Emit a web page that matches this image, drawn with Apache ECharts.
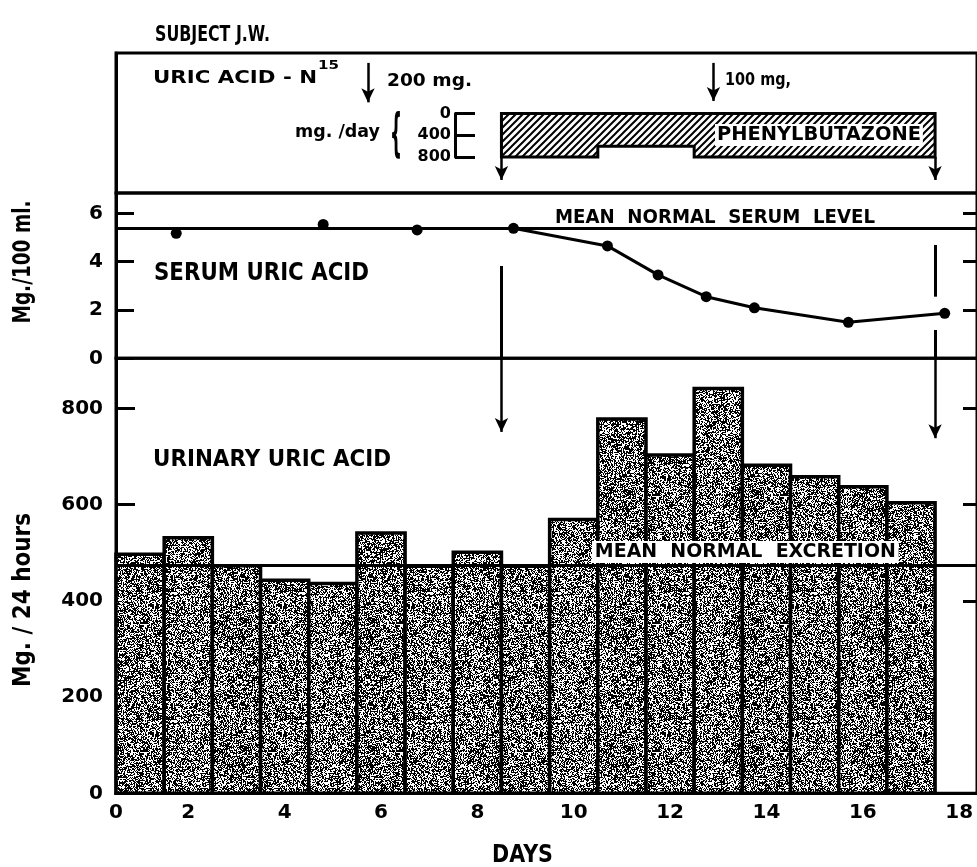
<!DOCTYPE html>
<html><head><meta charset="utf-8">
<script src="https://cdn.jsdelivr.net/npm/echarts@6/dist/echarts.min.js"></script>
<style>html,body{margin:0;padding:0;background:#fff}#c{width:977px;height:867px}</style>
</head><body><div id="c"></div>
<script>
// ---- data ----
const days = [1,2,3,4,5,6,7,8,9,10,11,12,13,14,15,16,17];
const urinary = [497,531,473,443,436,541,472,501,472,569,778,703,841,682,658,637,604];
const serumDays = [1.75,4.8,6.75,8.75,10.7,11.75,12.75,13.75,15.7,17.7];
const serumValues = [5.17,5.54,5.31,5.38,4.65,3.45,2.55,2.09,1.49,1.86];
const serumLineStart = 3;
const meanSerum = 5.38;
const meanExcretion = 474;
const drugStart = [8.5,10.5,12.5];
const drugEnd = [10.5,12.5,17.5];
const drugDose = [800,600,800];
const doseTicks = [0,400,800];
const injectionDays = [5.73,12.9];
const injectionLabels = ['200 mg.','100 mg,'];
const xTickValues = [0.5,2,4,6,8,10,12,14,16,18];
const xTickLabels = ['0','2','4','6','8','10','12','14','16','18'];
const serumTicks = [0,2,4,6];
const urineTicks = [0,200,400,600,800];
const urineRightTicks = [400,600,800];
const serumRightTicks = [2,4,6];

// ---- patterns ----
function noisePattern(){
  const n=128, c=document.createElement('canvas'); c.width=c.height=n;
  const g=c.getContext('2d'); const img=g.createImageData(n,n);
  let s=987654321;
  const r=()=>{ s=(Math.imul(s,1103515245)+12345)>>>0; return (s>>>8)/16777216; };
  for(let i=0;i<n*n;i++){ const w=r()<0.45?255:0; img.data[i*4]=img.data[i*4+1]=img.data[i*4+2]=w; img.data[i*4+3]=255; }
  g.putImageData(img,0,0); return c;
}
function hatchPattern(){
  const n=7, c=document.createElement('canvas'); c.width=c.height=n;
  const g=c.getContext('2d'); g.fillStyle='#fff'; g.fillRect(0,0,n,n);
  g.strokeStyle='#000'; g.lineWidth=2;
  g.beginPath(); g.moveTo(-1,n+1); g.lineTo(n+1,-1); g.moveTo(-2,2); g.lineTo(2,-2); g.moveTo(n-2,n+2); g.lineTo(n+2,n-2); g.stroke();
  return c;
}
const noiseFill = {image: noisePattern(), repeat:'repeat'};
const hatchFill = {image: hatchPattern(), repeat:'repeat'};

// ---- text helper ----
const FONT = '"DejaVu Sans", "Liberation Sans", sans-serif';
const mctx = document.createElement('canvas').getContext('2d');
function txt(t, x, y, w, fs, extra, weight){
  weight = weight || 'bold';
  mctx.font = weight + ' ' + fs + 'px ' + FONT;
  const nat = mctx.measureText(t).width;
  const el = {type:'text', x:x, y:y, scaleX:w/nat, z:100,
    style:{text:t, fontSize:fs, fontWeight:weight, fontFamily:FONT, fill:'#000', align:'left', verticalAlign:'middle'}};
  if (extra) { Object.assign(el.style, extra.style||{}); }
  return el;
}

const XMIN = 0.5, XMAX = 18.37;
const black3 = {color:'#000', width:3};
function xAxis(i, show){
  return {gridIndex:i, type:'value', min:XMIN, max:XMAX, show:show,
    axisLine:{show:true, onZero:false, lineStyle:black3}, axisTick:{show:false}, splitLine:{show:false},
    axisLabel:{show:show, customValues:xTickValues, margin:9, fontSize:20, fontWeight:'bold', fontFamily:FONT, color:'#000',
      formatter:v=>{ const k=xTickValues.findIndex(a=>Math.abs(a-v)<1e-6); return k>=0?xTickLabels[k]:''; }}};
}
const lblStyle = {fontSize:20, fontWeight:'bold', fontFamily:FONT, color:'#000', margin:13};

const option = {
  animation:false,
  backgroundColor:'#fff',
  grid:[
    {left:116, top:53, right:0, height:140, show:true, borderColor:'#000', borderWidth:3},
    {left:116, top:193, right:0, height:165.3, show:true, borderColor:'#000', borderWidth:3},
    {left:116, top:358.3, right:0, height:435, show:true, borderColor:'#000', borderWidth:3},
    {left:455, top:113.5, width:20, height:43.5, show:false}
  ],
  xAxis:[ xAxis(0,false), xAxis(1,false), xAxis(2,true), {gridIndex:3, type:'value', show:false, min:0, max:1} ],
  yAxis:[
    {gridIndex:0, type:'value', inverse:true, min:-1112, max:1461, axisLine:{show:true, lineStyle:black3}, axisTick:{show:false}, axisLabel:{show:false}, splitLine:{show:false}},
    {gridIndex:1, type:'value', min:0, max:6.84, axisLine:{show:true, lineStyle:black3},
      axisTick:{show:true, inside:true, length:18, lineStyle:black3, customValues:serumTicks},
      axisLabel:Object.assign({customValues:serumTicks}, lblStyle), splitLine:{show:false}},
    {gridIndex:1, type:'value', position:'right', min:0, max:6.84, axisLine:{show:false},
      axisTick:{show:true, inside:true, length:14, lineStyle:black3, customValues:serumRightTicks}, axisLabel:{show:false}, splitLine:{show:false}},
    {gridIndex:2, type:'value', min:0, max:904, axisLine:{show:true, lineStyle:black3},
      axisTick:{show:true, inside:true, length:19, lineStyle:black3, customValues:urineTicks},
      axisLabel:Object.assign({customValues:urineTicks}, lblStyle), splitLine:{show:false}},
    {gridIndex:2, type:'value', position:'right', min:0, max:904, axisLine:{show:false},
      axisTick:{show:true, inside:true, length:14, lineStyle:black3, customValues:urineRightTicks}, axisLabel:{show:false}, splitLine:{show:false}},
    {gridIndex:3, type:'value', inverse:true, min:0, max:800, axisLine:{show:true, lineStyle:black3},
      axisTick:{show:true, inside:true, length:20, lineStyle:black3, customValues:doseTicks},
      axisLabel:{customValues:doseTicks, fontSize:16, fontWeight:'bold', fontFamily:FONT, color:'#000', margin:4}, splitLine:{show:false}}
  ],
  series:[
    { // phenylbutazone dosage band
      type:'custom', xAxisIndex:0, yAxisIndex:0, z:3,
      data:[[drugStart[0],0]],
      renderItem:(params, api)=>{
        const n=drugStart.length;
        const pts=[api.coord([drugStart[0],0]), api.coord([drugEnd[n-1],0])];
        for(let i=n-1;i>=0;i--){ pts.push(api.coord([drugEnd[i],drugDose[i]])); pts.push(api.coord([drugStart[i],drugDose[i]])); }
        return {type:'polygon', shape:{points:pts}, style:{fill:hatchFill, stroke:'#000', lineWidth:3}};
      },
      markLine:{silent:true, symbol:['none','arrow'], symbolSize:[10,14], label:{show:false},
        lineStyle:{color:'#000', width:2.5, type:'solid'},
        data:[
          [{coord:[drugStart[0],drugDose[0]]},{coord:[drugStart[0],1222]}],
          [{coord:[drugEnd[drugEnd.length-1],drugDose[drugDose.length-1]]},{coord:[drugEnd[drugEnd.length-1],1222]}],
          [{coord:[injectionDays[0],-930]},{coord:[injectionDays[0],-205]}],
          [{coord:[injectionDays[1],-930]},{coord:[injectionDays[1],-230]}]
        ]}
    },
    { // early serum values (unconnected)
      type:'scatter', xAxisIndex:1, yAxisIndex:1, symbol:'circle', symbolSize:11, itemStyle:{color:'#000', opacity:1}, z:5,
      data:serumDays.slice(0,serumLineStart).map((d,i)=>[d,serumValues[i]])
    },
    { // serum uric acid curve
      type:'line', xAxisIndex:1, yAxisIndex:1, symbol:'circle', symbolSize:11, showAllSymbol:true,
      itemStyle:{color:'#000', opacity:1}, lineStyle:{color:'#000', width:3}, z:5,
      data:serumDays.slice(serumLineStart).map((d,i)=>[d,serumValues[i+serumLineStart]]),
      markLine:{silent:true, symbol:'none', label:{show:false}, lineStyle:{color:'#000', width:3, type:'solid'},
        data:[
          {yAxis:meanSerum},
          [{coord:[drugStart[0],3.82]},{coord:[drugStart[0],0]}],
          [{coord:[drugEnd[drugEnd.length-1],4.69]},{coord:[drugEnd[drugEnd.length-1],2.55]}],
          [{coord:[drugEnd[drugEnd.length-1],1.17]},{coord:[drugEnd[drugEnd.length-1],0]}]
        ]}
    },
    { // urinary uric acid bars
      type:'custom', xAxisIndex:2, yAxisIndex:3, z:3,
      data:days.map((d,i)=>[d,urinary[i]]),
      encode:{x:0, y:1},
      renderItem:(params, api)=>{
        const d=api.value(0), v=api.value(1);
        const p0=api.coord([d-0.5,v]), p1=api.coord([d+0.5,0]);
        return {type:'rect', shape:{x:p0[0], y:p0[1], width:p1[0]-p0[0], height:p1[1]-p0[1]},
          style:{fill:noiseFill, stroke:'#000', lineWidth:3.5}};
      }
    },
    { // mean normal excretion + arrows
      type:'line', xAxisIndex:2, yAxisIndex:3, data:[], z:8,
      markLine:{silent:true, symbol:['none','arrow'], symbolSize:[10,14], label:{show:false},
        lineStyle:{color:'#000', width:2.5, type:'solid'},
        data:[
          [{coord:[XMIN,meanExcretion], symbol:'none'},{coord:[XMAX,meanExcretion], symbol:'none', lineStyle:{width:3}}],
          [{coord:[drugStart[0],904]},{coord:[drugStart[0],751]}],
          [{coord:[drugEnd[drugEnd.length-1],904]},{coord:[drugEnd[drugEnd.length-1],738]}]
        ]}
    }
  ],
  graphic:[
    txt('SUBJECT J.W.', 155, 35, 115, 22),
    txt('URIC ACID - N', 153, 78, 164, 18.5),
    txt('15', 318, 66, 21, 13),
    txt(injectionLabels[0], 387, 81, 85, 18),
    txt(injectionLabels[1], 725, 81, 66, 17),
    txt('mg. /day', 295, 132, 85, 18),
    txt('{', 390, 136, 12, 52),
    txt('PHENYLBUTAZONE', 715, 135, 204, 20, {style:{backgroundColor:'#fff', padding:[1,2]}}),
    txt('MEAN  NORMAL  SERUM  LEVEL', 555, 218, 320, 20),
    txt('SERUM URIC ACID', 154, 273, 215, 25),
    txt('URINARY URIC ACID', 153, 460, 238, 23),
    txt('MEAN  NORMAL  EXCRETION', 592, 552, 301, 20, {style:{backgroundColor:'#fff', padding:[1,3]}}),
    txt('DAYS', 492, 856, 61, 24),
    Object.assign(txt('Mg./100 ml.', 23, 262, 123, 25), {rotation:Math.PI/2}),
    Object.assign(txt('Mg. / 24 hours', 23, 600, 174, 25), {rotation:Math.PI/2})
  ]
};
option.graphic.slice(-2).forEach(g=>{ g.style.align='center'; });
const chart = echarts.init(document.getElementById('c'), null, {renderer:'canvas'});
chart.setOption(option);
</script></body></html>
